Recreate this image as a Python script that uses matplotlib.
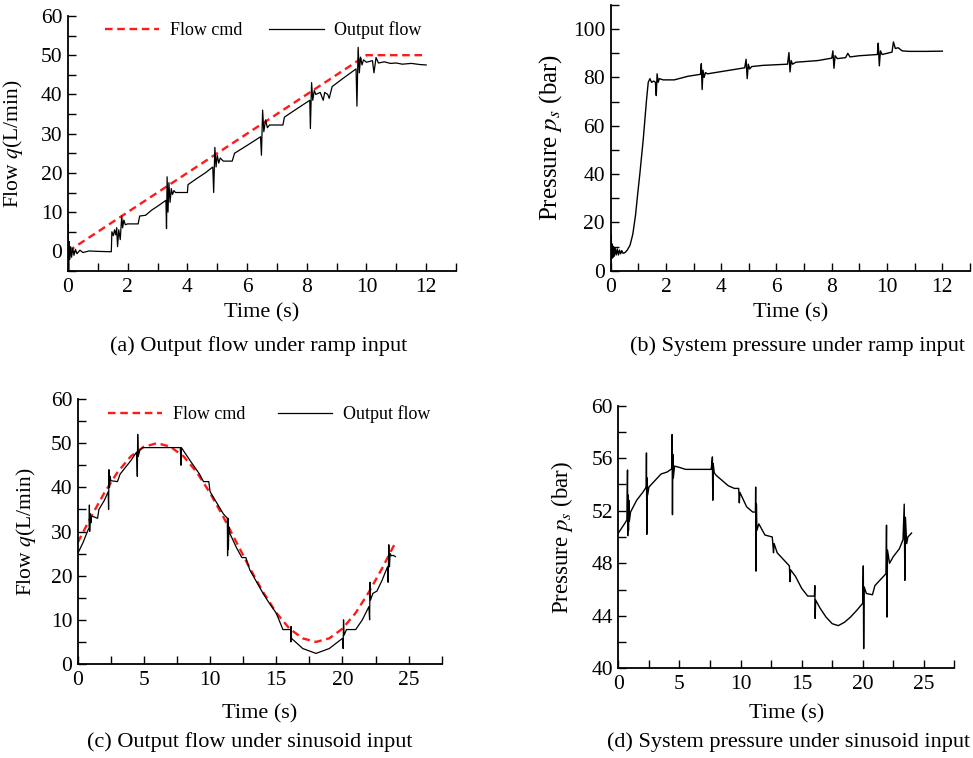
import numpy as np
import matplotlib
matplotlib.use("Agg")
import matplotlib.pyplot as plt
from matplotlib.ticker import MultipleLocator

plt.rcParams.update({
    'font.family': 'Liberation Serif',
    'mathtext.fontset': 'stix',
    'font.size': 14,
})

# ---- data (time s, value) ----
ramp_cmd = [(0.0, 0.0), (10.0, 50.0), (12.0, 50.0)]

ramp_out = [(0.00, 0.0), (0.01, 7.0), (0.02, -5.0), (0.04, 2.5), (0.06, -2.0), (0.09, 1.2),
            (0.12, -1.5), (0.16, 0.8), (0.2, -1.0), (0.25, 0.5), (0.3, -0.6), (0.4, 0.3),
            (0.5, -0.3), (0.7, 0.1), (1.0, 0.0), (1.45, -0.1), (1.47, 5.0), (1.52, 4.0),
            (1.56, 5.5), (1.6, 4.2), (1.63, 6.0), (1.66, 1.2), (1.7, 5.5), (1.75, 3.0),
            (1.8, 9.0), (1.83, 6.0), (1.87, 8.0), (1.92, 6.8), (2.0, 7.0), (2.35, 7.0),
            (2.4, 9.0), (2.6, 9.2), (2.8, 10.5), (3.0, 11.5), (3.28, 13.0), (3.3, 5.8),
            (3.32, 19.0), (3.35, 10.0), (3.38, 17.5), (3.42, 12.5), (3.46, 16.0), (3.5, 14.5),
            (3.55, 15.5), (3.6, 15.0), (4.0, 15.0), (4.02, 17.0), (4.3, 18.5), (4.6, 20.0),
            (4.85, 21.5), (4.88, 15.0), (4.92, 26.5), (4.96, 21.5), (5.0, 24.5), (5.05, 22.5),
            (5.1, 23.8), (5.2, 23.0), (5.5, 23.0), (5.58, 25.0), (6.0, 27.0), (6.45, 29.2),
            (6.48, 24.5), (6.52, 36.0), (6.56, 30.5), (6.62, 33.5), (6.68, 31.5), (6.75, 32.2),
            (7.2, 32.2), (7.25, 34.2), (7.6, 36.0), (8.1, 38.5), (8.12, 31.3), (8.16, 43.0),
            (8.2, 38.5), (8.25, 41.0), (8.3, 40.0), (8.45, 40.5), (8.55, 38.5), (8.6, 40.5),
            (8.7, 40.0), (8.75, 39.0), (8.85, 42.0), (9.2, 44.0), (9.65, 46.5), (9.68, 37.0),
            (9.72, 52.0), (9.76, 45.5), (9.8, 49.5), (9.85, 47.5), (9.9, 48.8), (10.0, 48.2),
            (10.2, 48.6), (10.25, 45.5), (10.32, 49.4), (10.4, 48.0), (10.6, 48.3), (10.8, 47.9),
            (11.0, 48.0), (11.2, 47.7), (11.5, 47.9), (11.8, 47.6), (12.0, 47.5)]

ramp_p = [(0.0, 3.0), (0.02, 15.0), (0.04, 5.0), (0.06, 11.0), (0.08, 5.5), (0.1, 10.0),
          (0.13, 6.0), (0.16, 9.5), (0.2, 6.5), (0.24, 9.0), (0.28, 6.5), (0.32, 8.5),
          (0.36, 7.0), (0.4, 8.3), (0.45, 7.2), (0.52, 7.5), (0.6, 8.5), (0.7, 10.5),
          (0.8, 15.0), (0.9, 23.0), (0.98, 32.0), (1.06, 40.5), (1.18, 54.5), (1.3, 71.0),
          (1.36, 78.0), (1.42, 79.5), (1.48, 78.0), (1.56, 78.5), (1.62, 78.0), (1.65, 72.5),
          (1.68, 81.5), (1.72, 78.0), (1.76, 79.5), (1.9, 79.0), (2.3, 79.0), (2.8, 80.5),
          (3.25, 81.3), (3.28, 85.7), (3.31, 75.0), (3.34, 83.0), (3.38, 80.0), (3.43, 82.0),
          (3.5, 81.5), (4.2, 82.8), (4.85, 84.0), (4.9, 87.5), (4.94, 79.5), (4.98, 85.5),
          (5.03, 83.5), (5.1, 84.5), (5.5, 85.0), (6.4, 85.5), (6.45, 90.3), (6.49, 82.3),
          (6.53, 87.0), (6.58, 85.5), (6.7, 86.3), (7.5, 87.0), (8.0, 88.0), (8.04, 91.0),
          (8.08, 83.8), (8.12, 89.0), (8.2, 87.8), (8.5, 88.2), (8.58, 90.0), (8.66, 88.5),
          (9.0, 89.0), (9.65, 89.5), (9.68, 94.2), (9.72, 84.8), (9.76, 91.0), (9.82, 89.5),
          (10.0, 90.0), (10.18, 90.5), (10.23, 94.7), (10.3, 92.0), (10.4, 92.3), (10.55, 91.0),
          (10.8, 90.8), (11.4, 90.8), (12.0, 90.9)]

sine_cmd_t = list(range(25))
sine_cmd_q = [27.5, 33.3, 38.7, 43.4, 47.0, 49.2, 50.0, 49.2, 47.0, 43.4, 38.7, 33.3, 27.5,
              21.7, 16.3, 11.6, 8.0, 5.8, 5.0, 5.8, 8.0, 11.6, 16.3, 21.7, 27.5]

sine_out = [(0.0, 25.0), (0.4, 27.5), (0.8, 30.5), (0.86, 30.5), (0.88, 36.0), (0.9, 30.0),
            (0.95, 34.0), (1.0, 32.0), (1.05, 33.5), (1.5, 33.0), (1.6, 35.0), (2.0, 37.0),
            (2.3, 39.0), (2.33, 35.0), (2.36, 44.0), (2.4, 40.0), (2.45, 42.5), (2.5, 41.5),
            (3.0, 41.3), (3.2, 43.0), (4.0, 46.0), (4.45, 48.0), (4.5, 42.5), (4.53, 52.0),
            (4.57, 47.0), (4.7, 48.5), (4.9, 49.0), (7.75, 49.0), (7.8, 45.0), (7.83, 49.0),
            (8.5, 46.0), (9.2, 43.0), (9.5, 41.3), (9.9, 41.3), (10.0, 39.0), (11.0, 34.0),
            (11.3, 33.0), (11.32, 24.5), (11.35, 33.0), (11.38, 26.0), (11.42, 31.0), (11.5, 29.5),
            (12.0, 26.3), (12.4, 24.1), (12.7, 24.1), (13.0, 21.3), (14.0, 16.0), (14.4, 14.1),
            (15.0, 11.5), (15.5, 7.8), (16.08, 7.8), (16.1, 5.0), (16.12, 8.5), (16.15, 5.8),
            (16.3, 5.4), (17.0, 3.5), (18.0, 2.4), (19.0, 3.5), (20.0, 5.8), (20.05, 3.5),
            (20.08, 10.0), (20.12, 6.5), (20.3, 7.8), (21.0, 7.8), (21.5, 10.0), (22.0, 13.0),
            (22.05, 10.0), (22.08, 18.5), (22.12, 14.5), (22.3, 16.0), (22.6, 16.5), (23.0, 19.0),
            (23.4, 22.0), (23.45, 18.5), (23.5, 27.0), (23.55, 22.0), (23.6, 25.0), (23.7, 24.5),
            (23.85, 24.6), (24.0, 24.3)]

sine_p = [(0.0, 50.3), (0.5, 51.0), (0.7, 51.3), (0.75, 55.1), (0.77, 50.1), (0.8, 53.2),
          (0.83, 50.5), (0.86, 52.8), (0.9, 51.2), (1.0, 51.9), (1.5, 52.8), (2.0, 53.4),
          (2.28, 53.8), (2.3, 56.4), (2.33, 50.2), (2.36, 54.5), (2.4, 53.2), (2.5, 53.8),
          (3.0, 54.3), (3.5, 54.8), (4.0, 54.95), (4.38, 55.2), (4.4, 57.8), (4.43, 51.7),
          (4.46, 56.3), (4.5, 54.5), (4.6, 55.4), (5.0, 55.3), (5.5, 55.15), (7.6, 55.15),
          (7.7, 56.1), (7.73, 52.8), (7.76, 55.6), (7.85, 54.9), (8.0, 54.7), (9.0, 53.9),
          (9.5, 53.7), (9.85, 53.7), (9.9, 52.6), (9.95, 53.4), (10.5, 52.3), (11.0, 51.9),
          (11.22, 51.9), (11.24, 53.8), (11.27, 47.4), (11.3, 52.5), (11.34, 50.5), (11.5, 51.0),
          (12.0, 50.15), (12.6, 50.0), (12.7, 48.8), (12.75, 49.5), (13.0, 48.8), (13.8, 48.0),
          (14.0, 47.8), (14.05, 46.6), (14.1, 47.5), (14.5, 47.0), (15.0, 46.1), (15.5, 45.5),
          (16.05, 45.5), (16.08, 46.3), (16.11, 43.8), (16.15, 45.2), (16.5, 44.6), (17.0, 43.9),
          (17.5, 43.4), (18.0, 43.25), (18.5, 43.5), (19.0, 43.9), (19.5, 44.4), (20.0, 44.95),
          (20.05, 47.8), (20.08, 41.5), (20.12, 46.2), (20.3, 45.7), (20.8, 45.6), (21.0, 46.3),
          (21.5, 46.8), (21.9, 47.2), (21.95, 50.9), (21.99, 43.9), (22.03, 49.0), (22.2, 48.0),
          (22.5, 48.5), (23.0, 49.1), (23.3, 49.8), (23.4, 52.5), (23.45, 46.7), (23.5, 51.5),
          (23.6, 49.5), (23.7, 50.0), (24.0, 50.3)]

captions = ["(a) Output flow under ramp input", "(b) System pressure under ramp input",
            "(c) Output flow under sinusoid input", "(d) System pressure under sinusoid input"]

flow_label = r"Flow $q$(L/min)"
press_label = r"Pressure $p_s$ (bar)"

RED = '#ff1a1a'
DASH = (0, (3.2, 2.0))


def xy(pairs):
    a = np.array(pairs)
    return a[:, 0], a[:, 1]


def style(ax, xmaj, xmin, ymaj, ymin):
    for s in ['top', 'right']:
        ax.spines[s].set_visible(False)
    for s in ['left', 'bottom']:
        ax.spines[s].set_linewidth(1.3)
    ax.xaxis.set_major_locator(MultipleLocator(xmaj))
    ax.xaxis.set_minor_locator(MultipleLocator(xmin))
    ax.yaxis.set_major_locator(MultipleLocator(ymaj))
    ax.yaxis.set_minor_locator(MultipleLocator(ymin))
    ax.tick_params(which='both', direction='in', length=5.5, width=1.0, labelsize=15.5)
    ax.tick_params(axis='x', pad=5)
    ax.tick_params(axis='y', pad=4)
    ax.tick_params(top=False, right=False)


fig = plt.figure(figsize=(9.73, 7.58), dpi=100)

# (a)
ax = fig.add_axes([0.0699, 0.6425, 0.3988, 0.3365])
t, q = xy(ramp_cmd)
ax.plot(t, q, color=RED, lw=1.7, ls=DASH, label='Flow cmd')
t, q = xy(ramp_out)
ax.plot(t, q, color='black', lw=0.9, label='Output flow')
ax.set_xlim(0, 13)
ax.set_ylim(-5, 60)
style(ax, 2, 1, 10, 5)
ax.set_ylabel(flow_label, fontsize=15.5)
ax.yaxis.set_label_coords(-0.111, 0.5)
ax.set_xlabel("Time (s)", fontsize=16)
ax.xaxis.set_label_coords(0.5, -0.125)
ax.legend(loc='center left', bbox_to_anchor=(0.095, 0.945), ncol=2, frameon=False,
          fontsize=13, handlelength=3.0, handletextpad=0.6, columnspacing=1.5,
          borderpad=0, borderaxespad=0)

# (b)
ax = fig.add_axes([0.6276, 0.6429, 0.3693, 0.3505])
t, p = xy(ramp_p)
ax.plot(t, p, color='black', lw=1.0)
ax.set_xlim(0, 13)
ax.set_ylim(0, 110)
style(ax, 2, 1, 20, 10)
ax.set_ylabel(press_label, fontsize=18)
ax.yaxis.set_label_coords(-0.13, 0.5)
ax.set_xlabel("Time (s)", fontsize=16)
ax.xaxis.set_label_coords(0.5, -0.122)

# (c)
ax = fig.add_axes([0.0799, 0.124, 0.3741, 0.3496])
ax.plot(sine_cmd_t, sine_cmd_q, color=RED, lw=1.7, ls=DASH, label='Flow cmd')
t, q = xy(sine_out)
ax.plot(t, q, color='black', lw=0.9, label='Output flow')
ax.set_xlim(0, 27.5)
ax.set_ylim(0, 60)
style(ax, 5, 2.5, 10, 5)
ax.set_ylabel(flow_label, fontsize=15.5)
ax.yaxis.set_label_coords(-0.109, 0.5)
ax.set_xlabel("Time (s)", fontsize=16)
ax.xaxis.set_label_coords(0.5, -0.151)
ax.legend(loc='center left', bbox_to_anchor=(0.083, 0.943), ncol=2, frameon=False,
          fontsize=13, handlelength=3.0, handletextpad=0.6, columnspacing=1.8,
          borderpad=0, borderaxespad=0)

# (d)
ax = fig.add_axes([0.6355, 0.1183, 0.3453, 0.3465])
t, p = xy(sine_p)
ax.plot(t, p, color='black', lw=1.0)
ax.set_xlim(0, 27.5)
ax.set_ylim(40, 60)
style(ax, 5, 2.5, 4, 2)
ax.set_ylabel(press_label, fontsize=16.5)
ax.yaxis.set_label_coords(-0.129, 0.5)
ax.set_xlabel("Time (s)", fontsize=16)
ax.xaxis.set_label_coords(0.5, -0.136)

# captions
fig.text(259 / 973, 1 - 346 / 758, captions[0], ha='center', va='center', fontsize=16)
fig.text(797 / 973, 1 - 346 / 758, captions[1], ha='center', va='center', fontsize=16)
fig.text(250 / 973, 1 - 742 / 758, captions[2], ha='center', va='center', fontsize=16)
fig.text(789 / 973, 1 - 742 / 758, captions[3], ha='center', va='center', fontsize=16)

fig.savefig("out.png", dpi=100)
